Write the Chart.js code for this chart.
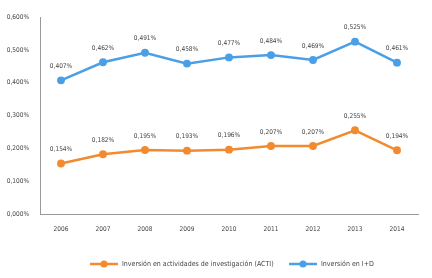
<!DOCTYPE html>
<html>
<head>
  <meta charset="utf-8">
  <title>Inversión ACTI e I+D</title>
  <style>
    html, body { margin: 0; padding: 0; background: #fff; }
    .chart-container { position: relative; width: 432px; height: 278px; }
  </style>
</head>
<body>
  <div class="chart-container">
    <canvas id="myChart" aria-label="Chart" role="img"></canvas>
  </div>

  <script src="https://cdn.jsdelivr.net/npm/chart.js"></script>
  <script>
    // 資料
    const years = ['2006', '2007', '2008', '2009', '2010', '2011', '2012', '2013', '2014'];
    const actiValues = [0.154, 0.182, 0.195, 0.193, 0.196, 0.207, 0.207, 0.255, 0.194];
    const idValues = [0.407, 0.462, 0.491, 0.458, 0.477, 0.484, 0.469, 0.525, 0.461];
    const seriesNames = ['Inversión en actividades de investigación (ACTI)', 'Inversión en I+D'];

    // 樣式
    const orange = '#f28a30';
    const blue = '#4a9fe6';
    const textColor = '#444';
    const fontFamily = '"Liberation Sans Narrow", "DejaVu Sans Condensed", sans-serif';

    function pct(v) {
      return v.toFixed(3).replace('.', ',') + '%';
    }

    // 數值標籤
    const valueLabels = {
      id: 'valueLabels',
      afterDatasetsDraw(chart) {
        const ctx = chart.ctx;
        ctx.save();
        ctx.font = '6.5px ' + fontFamily;
        ctx.fillStyle = textColor;
        ctx.textAlign = 'center';
        ctx.textBaseline = 'middle';
        chart.data.datasets.forEach((ds, i) => {
          chart.getDatasetMeta(i).data.forEach((pt, j) => {
            ctx.fillText(pct(ds.data[j]), pt.x, pt.y - 14);
          });
        });
        ctx.restore();
      }
    };

    // 圖例
    const bottomLegend = {
      id: 'bottomLegend',
      afterDraw(chart) {
        const ctx = chart.ctx;
        const items = [
          { x: 90, color: orange, text: seriesNames[0] },
          { x: 289, color: blue, text: seriesNames[1] }
        ];
        const y = 264;
        ctx.save();
        items.forEach(it => {
          ctx.strokeStyle = it.color;
          ctx.fillStyle = it.color;
          ctx.lineWidth = 2.5;
          ctx.beginPath();
          ctx.moveTo(it.x, y);
          ctx.lineTo(it.x + 28, y);
          ctx.stroke();
          ctx.beginPath();
          ctx.arc(it.x + 14, y, 3.5, 0, Math.PI * 2);
          ctx.fill();
          ctx.fillStyle = textColor;
          ctx.font = '7px ' + fontFamily;
          ctx.textAlign = 'left';
          ctx.textBaseline = 'middle';
          ctx.fillText(it.text, it.x + 32, y);
        });
        ctx.restore();
      }
    };

    const data = {
      labels: years,
      datasets: [{
        label: seriesNames[0],
        data: actiValues,
        borderColor: orange,
        backgroundColor: orange,
        borderWidth: 2.5,
        pointRadius: 2.7,
        pointHoverRadius: 2.7,
        tension: 0
      }, {
        label: seriesNames[1],
        data: idValues,
        borderColor: blue,
        backgroundColor: blue,
        borderWidth: 2.5,
        pointRadius: 2.7,
        pointHoverRadius: 2.7,
        tension: 0
      }]
    };

    const config = {
      type: 'line',
      data: data,
      options: {
        responsive: true,
        maintainAspectRatio: false,
        animation: false,
        layout: { padding: { top: 17, right: 14, left: 0, bottom: 0 } },
        plugins: {
          legend: { display: false },
          tooltip: { enabled: false }
        },
        scales: {
          x: {
            offset: true,
            grid: { display: false, drawTicks: false },
            border: { display: true, color: '#999', width: 1 },
            ticks: {
              color: textColor,
              padding: 11,
              font: { family: fontFamily, size: 6.5 },
              maxRotation: 0
            },
            afterFit(axis) { axis.height = 64; }
          },
          y: {
            min: 0,
            max: 0.6,
            grid: { display: false, drawTicks: false },
            border: { display: true, color: '#999', width: 1 },
            ticks: {
              stepSize: 0.1,
              color: textColor,
              padding: 11,
              font: { family: fontFamily, size: 6.5 },
              callback: v => pct(v)
            },
            afterFit(axis) { axis.width = 40; }
          }
        }
      },
      plugins: [valueLabels, bottomLegend]
    };

    const myChart = new Chart(document.getElementById('myChart'), config);
  </script>
</body>
</html>
